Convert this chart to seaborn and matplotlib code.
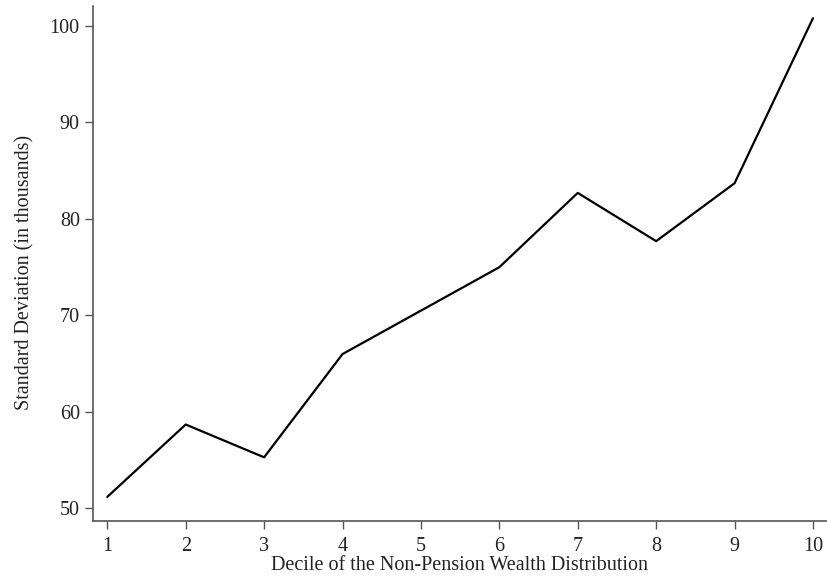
import pandas as pd
import matplotlib.pyplot as plt
import seaborn as sns

deciles = [1, 2, 3, 4, 5, 6, 7, 8, 9, 10]
std_dev = [51.2, 58.7, 55.3, 66.0, 70.5, 75.0, 82.7, 77.7, 83.7, 100.8]
ytick_vals = [50, 60, 70, 80, 90, 100]

df = pd.DataFrame({"decile": deciles, "sd": std_dev})

sns.set_style("ticks")
plt.rcParams['font.family'] = ['Liberation Serif', 'DejaVu Serif']

fig = plt.figure(figsize=(8.27, 5.86), dpi=100)
ax = fig.add_axes([0.1121, 0.1109, 0.888, 0.8789])
sns.lineplot(data=df, x="decile", y="sd", color="black", linewidth=1.6, ax=ax)

ax.set_xlim(0.814, 10.18)
ax.set_ylim(48.70, 102.07)
ax.set_xticks(deciles)
ax.set_yticks(ytick_vals)
ax.tick_params(labelsize=14.5, length=5.8, width=1, color="#555555", labelcolor="#222222")
ax.tick_params(axis="x", pad=6)
ax.set_xlabel("Decile of the Non-Pension Wealth Distribution", fontsize=14.5,
              labelpad=0, color="#222222")
ax.set_ylabel("Standard Deviation (in thousands)", fontsize=14.5, color="#222222")
ax.yaxis.set_label_coords(-0.079, 0.4835)
for side in ["top", "right"]:
    ax.spines[side].set_visible(False)
for side in ["left", "bottom"]:
    ax.spines[side].set_color("#555555")
    ax.spines[side].set_linewidth(1.2)

plt.savefig("out.png", dpi=100)
